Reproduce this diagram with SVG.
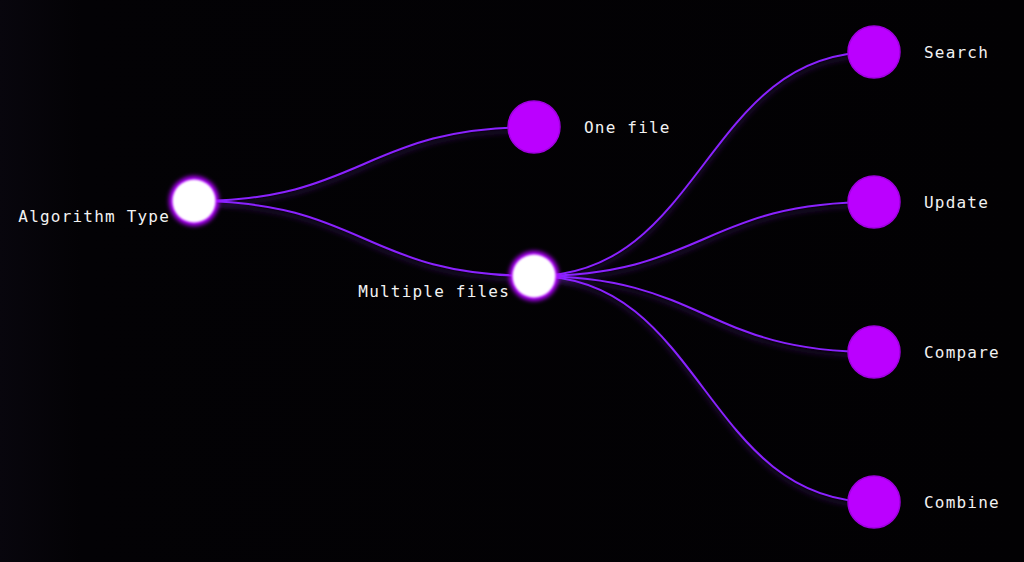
<svg xmlns="http://www.w3.org/2000/svg" width="1024" height="562" viewBox="0 0 1024 562">
<defs>
<linearGradient id="bg" x1="0" y1="0" x2="1" y2="0">
<stop offset="0" stop-color="#08060d"/>
<stop offset="0.08" stop-color="#030205"/>
<stop offset="1" stop-color="#020103"/>
</linearGradient>
<filter id="lshadow" x="-10%" y="-20%" width="120%" height="140%">
<feDropShadow dx="0" dy="4" stdDeviation="2.5" flood-color="#5a1a9a" flood-opacity="0.55"/>
</filter>
<filter id="glow" x="-50%" y="-50%" width="200%" height="200%">
<feGaussianBlur in="SourceGraphic" stdDeviation="2"/>
</filter>
<filter id="soft" x="-20%" y="-20%" width="140%" height="140%">
<feGaussianBlur in="SourceGraphic" stdDeviation="1"/>
</filter>
</defs>
<style>
.link{fill:none;stroke:#8a22ff;stroke-width:2;}
.leaf{fill:#bb00ff;stroke:#a000e0;stroke-width:1.5;}
.lbl{font-family:"DejaVu Sans Mono","Liberation Mono",monospace;font-size:16px;fill:#f2f2f2;letter-spacing:1.2px;}
</style>
<rect width="1024" height="562" fill="url(#bg)"/>
<g id="connectors" filter="url(#lshadow)">
<path class="link" d="M194,201 C364,201 364,127 534,127"/>
<path class="link" d="M194,201 C364,201 364,276 534,276"/>
<path class="link" d="M534,276 C704,276 704,52 874,52"/>
<path class="link" d="M534,276 C704,276 704,202 874,202"/>
<path class="link" d="M534,276 C704,276 704,352 874,352"/>
<path class="link" d="M534,276 C704,276 704,502 874,502"/>
</g>
<g id="node-algorithm-type">
<circle cx="194" cy="201" r="25" fill="#b000ff" filter="url(#glow)"/>
<circle cx="194" cy="201" r="21.5" fill="#ffffff" filter="url(#soft)"/>
<text class="lbl" x="170" y="222" text-anchor="end">Algorithm Type</text>
</g>
<g id="node-one-file">
<circle class="leaf" cx="534" cy="127" r="26"/>
<text class="lbl" x="584" y="133">One file</text>
</g>
<g id="node-multiple-files">
<circle cx="534" cy="276" r="25" fill="#b000ff" filter="url(#glow)"/>
<circle cx="534" cy="276" r="21.5" fill="#ffffff" filter="url(#soft)"/>
<text class="lbl" x="510" y="297" text-anchor="end">Multiple files</text>
</g>
<g id="node-search">
<circle class="leaf" cx="874" cy="52" r="26"/>
<text class="lbl" x="924" y="58">Search</text>
</g>
<g id="node-update">
<circle class="leaf" cx="874" cy="202" r="26"/>
<text class="lbl" x="924" y="208">Update</text>
</g>
<g id="node-compare">
<circle class="leaf" cx="874" cy="352" r="26"/>
<text class="lbl" x="924" y="358">Compare</text>
</g>
<g id="node-combine">
<circle class="leaf" cx="874" cy="502" r="26"/>
<text class="lbl" x="924" y="508">Combine</text>
</g>
</svg>
